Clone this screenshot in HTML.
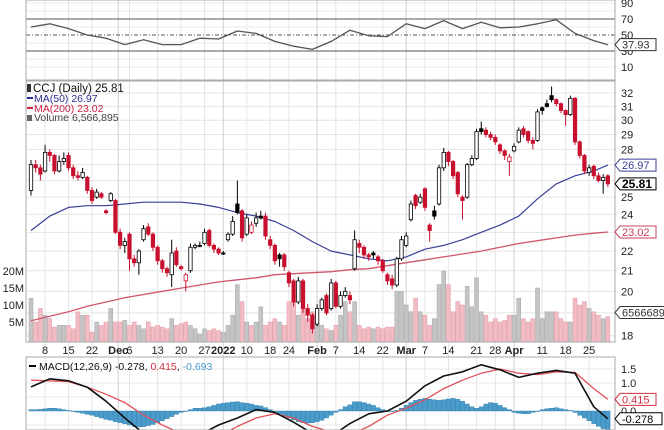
<!DOCTYPE html>
<html><head><meta charset="utf-8"><style>
html,body{margin:0;padding:0;background:#fff;}
svg{display:block;font-family:"Liberation Sans",sans-serif;}
</style></head><body>
<svg id="chart" width="664" height="430" viewBox="0 0 664 430" xmlns="http://www.w3.org/2000/svg">
<defs>
<clipPath id="cR"><rect x="26" y="0" width="589" height="80"/></clipPath>
<clipPath id="cP"><rect x="26" y="81" width="589" height="261"/></clipPath>
<clipPath id="cM"><rect x="26" y="357" width="589" height="73"/></clipPath>
</defs>
<g id="grid"></g>
<g id="vol" clip-path="url(#cP)"></g>
<g id="ma" clip-path="url(#cP)"></g>
<g id="candles" clip-path="url(#cP)"></g>
<g id="rsi" clip-path="url(#cR)"></g>
<g id="macd" clip-path="url(#cM)"></g>
<g id="frame"></g>
<g id="labels"></g>
</svg>
<script>
const opens=[25.4,27.0,26.8,26.6,27.8,27.6,26.6,27.2,27.6,26.8,26.3,26.2,26.2,25.4,25.0,25.2,24.2,24.8,24.8,23.0,22.3,22.9,21.6,21.4,22.6,23.3,22.9,22.2,21.5,21.1,20.8,22.0,21.2,20.5,21.0,22.2,22.3,22.4,23.1,22.3,22.1,21.9,22.6,22.9,24.6,24.2,22.9,23.0,23.5,23.9,23.9,22.6,22.3,21.8,21.8,20.9,20.5,19.5,20.5,19.2,18.9,18.5,19.2,19.8,19.2,20.4,19.3,19.8,19.8,21.1,22.4,22.2,21.8,21.9,21.7,21.5,20.8,20.6,20.3,21.6,22.3,23.7,25.1,24.7,25.5,23.4,24.2,24.6,26.8,27.8,27.2,26.5,25.0,25.0,27.0,27.4,29.4,29.3,29.0,28.8,28.3,27.9,27.2,27.9,28.5,29.4,29.2,28.6,28.6,30.9,31.2,31.8,31.5,31.2,30.7,30.4,31.6,28.5,27.6,26.5,26.9,26.3,26.0,26.3];
const highs=[27.3,27.3,27.0,28.3,28.0,27.7,27.6,27.8,27.8,27.0,26.6,26.8,26.3,25.6,25.5,25.3,24.3,25.3,24.9,23.2,22.7,23.0,21.8,22.1,23.4,23.5,23.0,22.3,21.6,21.2,22.6,22.2,21.3,20.9,22.4,22.4,22.5,23.2,23.2,22.4,22.2,22.0,23.0,23.9,26.0,24.3,24.0,23.6,24.1,24.2,24.1,22.8,22.4,21.9,21.9,21.0,20.6,20.7,20.6,19.4,19.0,19.4,19.7,19.9,20.6,20.5,20.0,20.2,20.0,23.1,22.6,22.3,21.9,22.0,21.8,21.6,20.9,20.8,21.7,22.8,23.0,24.8,25.2,25.2,25.6,23.5,24.5,27.0,28.1,27.9,27.3,26.6,25.1,27.1,27.6,29.4,29.9,29.5,29.2,29.0,28.4,28.0,27.7,28.4,29.5,29.6,29.3,28.8,30.8,31.0,31.5,32.5,31.6,31.3,30.8,31.8,31.7,28.6,27.7,27.0,27.0,26.5,26.4,26.4];
const lows=[25.1,26.5,26.0,26.5,27.2,26.4,26.5,27.0,26.6,26.1,26.0,26.1,25.2,24.6,24.9,24.9,24.0,24.7,22.9,22.1,21.9,21.0,21.2,20.8,22.5,22.8,22.0,21.3,20.9,20.7,20.2,21.2,21.0,20.0,20.9,22.1,22.2,22.3,22.2,21.9,21.8,21.8,22.5,22.8,24.0,22.5,22.8,22.9,23.3,23.7,22.6,22.1,21.3,21.2,21.0,20.2,19.3,19.4,19.0,18.6,18.1,18.4,19.1,18.9,19.1,19.2,19.2,19.7,19.4,21.0,21.9,21.6,21.5,21.6,21.3,20.9,20.3,20.1,20.2,21.5,22.2,23.6,24.3,24.6,24.2,22.5,23.7,24.5,26.6,26.9,26.1,25.0,23.7,24.9,26.9,27.3,29.0,28.8,28.6,28.3,27.7,27.3,26.3,27.8,28.4,28.8,28.4,28.0,28.5,30.4,30.9,31.3,31.0,30.5,29.6,30.3,28.3,27.4,26.4,26.3,26.1,25.9,25.2,25.6];
const closes=[27.0,26.8,26.4,27.8,27.6,26.6,27.2,27.4,26.8,26.3,26.2,26.5,25.4,24.8,25.3,25.0,24.1,25.2,23.0,22.3,22.5,21.6,21.4,22.0,23.2,22.9,22.2,21.5,21.1,20.9,21.9,21.3,21.1,20.8,22.2,22.3,22.3,23.0,22.3,22.1,21.9,21.9,22.9,23.6,24.1,22.7,23.8,23.4,23.8,23.8,22.8,22.3,21.5,21.6,21.2,20.4,19.5,20.5,19.2,18.9,18.3,19.2,19.6,19.0,20.4,19.3,19.8,20.0,19.6,22.6,22.2,21.8,21.7,21.8,21.5,21.0,20.5,20.3,21.6,22.6,22.8,24.6,24.5,25.0,24.4,23.1,23.9,26.8,27.8,27.2,26.3,25.2,24.8,27.0,27.4,29.2,29.2,29.0,28.8,28.5,27.9,27.6,27.5,28.2,29.3,29.0,28.6,28.4,30.6,30.7,31.0,31.5,31.2,30.7,30.4,31.6,28.5,27.6,26.6,26.8,26.3,26.0,26.2,25.8];
const volumes=[12,5,9,7,6,3.5,4,4,4,3,8,7,7,2,5,4,5,9,5,5,5.5,4,5,4,3,5,3.5,4,3.5,3,6,4,4.5,5,4,3,1.5,3,2.5,3,2.5,2,4,7,16,11,5,4,5,9.5,4,5,6,5,4,11,11,7,10,6,8,5,4,3,2.5,4,7,11,8,11,4,3,3.5,3,3.5,3,3.5,3.5,14,14,10,8,12,8,7,4,6,16,20,16,8,11,10,15.5,9.5,18,8,7,5,6,5,5.5,7,7,12,6,5,6,15,6,8,8,8,6,5,5,12,10,11,9,8,7,6,6.6];
const histValues=[0.05,0.05,0.06,0.08,0.1,0.1,0.08,0.05,0.02,-0.02,-0.05,-0.08,-0.12,-0.15,-0.2,-0.25,-0.3,-0.33,-0.38,-0.42,-0.46,-0.5,-0.55,-0.57,-0.56,-0.52,-0.48,-0.42,-0.35,-0.28,-0.2,-0.12,-0.05,0.0,0.05,0.1,0.1,0.12,0.15,0.2,0.25,0.28,0.3,0.32,0.33,0.3,0.28,0.25,0.2,0.18,0.12,0.05,-0.02,-0.1,-0.18,-0.25,-0.32,-0.38,-0.42,-0.43,-0.42,-0.38,-0.33,-0.25,-0.15,-0.05,0.05,0.15,0.22,0.33,0.33,0.3,0.25,0.2,0.12,0.05,0.0,-0.02,0.02,0.1,0.2,0.3,0.38,0.42,0.45,0.42,0.4,0.38,0.4,0.43,0.45,0.42,0.35,0.25,0.15,0.1,0.15,0.25,0.3,0.28,0.2,0.12,0.05,-0.05,-0.08,-0.1,-0.1,-0.05,0.0,0.05,0.08,0.1,0.12,0.08,0.05,0.02,-0.05,-0.15,-0.25,-0.35,-0.45,-0.55,-0.63,-0.69];
// sampled series: bar index of each sample
const sampleIdx=[0,4,8,12,16,20,24,28,32,36,40,44,48,52,56,60,64,68,72,76,80,84,88,92,96,100,104,108,112,116,120,123];
const ma50=[23.1,23.9,24.4,24.5,24.5,24.6,24.7,24.7,24.7,24.6,24.4,24.1,23.9,23.6,23.1,22.5,22.0,21.8,21.6,21.5,21.7,22.1,22.3,22.6,23.0,23.4,23.9,24.9,25.8,26.3,26.6,26.97];
const ma200=[18.65,18.85,19.05,19.3,19.5,19.7,19.85,20.0,20.15,20.3,20.45,20.55,20.65,20.8,20.85,20.9,20.95,21.05,21.1,21.25,21.4,21.55,21.7,21.85,22.0,22.2,22.4,22.55,22.7,22.85,22.95,23.02];
const rsiValues=[60,64,58,50,46,38,44,38,38,46,45,55,52,42,36,32,42,56,49,48,64,58,68,58,66,59,60,64,69,52,43,37.93];
const macdLine=[0.86,1.15,1.08,0.85,0.35,-0.25,-0.8,-1.0,-0.95,-0.85,-0.5,-0.25,0.05,-0.05,-0.4,-0.8,-0.9,-0.45,-0.1,0.0,0.35,0.9,1.25,1.4,1.65,1.47,1.2,1.35,1.45,1.35,0.15,-0.278];
const signalLine=[1.1,1.08,1.05,0.85,0.6,0.3,-0.15,-0.5,-0.8,-0.95,-0.9,-0.55,-0.25,-0.1,-0.25,-0.55,-0.75,-0.85,-0.55,-0.15,0.1,0.4,0.8,1.1,1.35,1.5,1.35,1.3,1.4,1.38,0.8,0.415];
const tickLabels=["8","15","22","Dec","6","13","20","27","2022","10","18","24","Feb","7","14","22","Mar","7","14","21","28","Apr","11","18","25"];
const tickIdx=[3,8,13,18.6,21,27,32,37,41,46,51,55,61,65,70,75,80,84,89,95,99,103,109,114,119];
const priceTicks=[32,31,30,29,28,25,24,22,21,20,18];
const priceGrid=[18,19,20,21,22,23,24,25,26,27,28,29,30,31,32];
const volTicks=[5,10,15,20];
const rsiTicks=[90,70,50,30,10];
const macdTicks=[1.5,1.0,0.0];

const NS="http://www.w3.org/2000/svg";
const L=26,R=615;
function xOf(i){return 31+i*4.69;}
function yP(p){return 93+(Math.log(32)-Math.log(p))*421.9;}
function yV(v){return 339-v*3.4;}
function yR(v){return 35-(v-50)*0.8;}
function yM(v){return 411-v*28;}
function mk(parent,tag,attrs,text){const e=document.createElementNS(NS,tag);for(const k in attrs)e.setAttribute(k,attrs[k]);if(text!==undefined)e.textContent=text;document.getElementById(parent).appendChild(e);return e;}

// grid
priceGrid.forEach(p=>{const e=mk('grid','line',{x1:L,x2:R,y1:yP(p),y2:yP(p),stroke:'#e4e4e4','stroke-width':1});

});
[90,80,60,40,20,10].forEach(v=>{const e=mk('grid','line',{x1:L,x2:R,y1:yR(v),y2:yR(v),stroke:'#e8e8e8'});

});
[1.5,1.0,0.5,-0.5].forEach(v=>{const e=mk('grid','line',{x1:L,x2:R,y1:yM(v),y2:yM(v),stroke:'#e8e8e8'});

});
tickIdx.forEach((ix,k)=>{const x=xOf(ix);const bold=isNaN(+tickLabels[k])||tickLabels[k]==="2022";
const e=mk('grid','line',{x1:x,x2:x,y1:0,y2:430,stroke:bold?'#d0d0d0':'#e6e6e6'});

});

// volume
volumes.forEach((v,i)=>{const up=i===0?true:closes[i]>=closes[i-1];
const e=mk('vol','rect',{x:xOf(i)-2,y:yV(v),width:4,height:342-yV(v),fill:up?'#c4c4c4':'#f2bcc4',stroke:up?'#a8a8a8':'#e19aa6','stroke-width':0.5});

});

// MAs
function poly(parent,vals,yf,color,w,name){const pts=vals.map((v,k)=>xOf(sampleIdx[k]).toFixed(1)+','+yf(v).toFixed(1)).join(' ');
const e=mk(parent,'polyline',{points:pts,fill:'none',stroke:color,'stroke-width':w,'stroke-linejoin':'round'});

return e;}
poly('ma',ma200,yP,'#d0566c',1.3,'ma200-line');
poly('ma',ma50,yP,'#3a3f95',1.2,'ma50-line');

// candles
closes.forEach((c,i)=>{const o=opens[i];const prev=i===0?o:closes[i-1];const col=c<prev?'#c8102e':'#000';const x=xOf(i);
const w=mk('candles','line',{x1:x,x2:x,y1:yP(highs[i]),y2:yP(lows[i]),stroke:col,'stroke-width':1});


const top=yP(Math.max(o,c)),bot=yP(Math.min(o,c));const hollow=c>o;
const b=mk('candles','rect',{x:x-1.7,y:top,width:3.4,height:Math.max(1,bot-top),fill:hollow?'#fff':col,stroke:col,'stroke-width':0.8});

});

// RSI
[[70,''],[30,''],[50,'4,2,1,2']].forEach(([v,d])=>{const e=mk('rsi','line',{x1:L,x2:R,y1:yR(v),y2:yR(v),stroke:'#555','stroke-width':1,'stroke-dasharray':d});

});
poly('rsi',rsiValues,yR,'#555',1.3,'rsi-line');

// MACD
histValues.forEach((v,i)=>{const y0=yM(0),y1=yM(v);
const e=mk('macd','rect',{x:xOf(i)-2.2,y:Math.min(y0,y1),width:4.4,height:Math.max(0.5,Math.abs(y1-y0)),fill:'#4a9ccc',stroke:'#2f7aa6','stroke-width':0.4});

});
poly('macd',signalLine,yM,'#e0525a',1.3,'macd-signal-line');
poly('macd',macdLine,yM,'#111',1.6,'macd-line');

// frames
[[0,80],[81,342],[357,430]].forEach(([a,b])=>{const e=mk('frame','rect',{x:L,y:a,width:R-L,height:b-a,fill:'none',stroke:'#aaa','stroke-width':1});

});

// labels
function txt(x,y,s,opts){const e=mk('labels','text',Object.assign({x:x,y:y,'font-size':11,fill:'#222'},opts||{}),s);return e;}
rsiTicks.forEach(v=>{const e=txt(621,yR(v)+4,String(v));

});
priceTicks.forEach(p=>{const e=txt(621,yP(p)+4,String(p));

});
volTicks.forEach(v=>{const e=txt(24,yV(v)+4,v+'M',{'text-anchor':'end'});

});
macdTicks.forEach(v=>{const e=txt(621,yM(v)+4,v.toFixed(1));

});
tickIdx.forEach((ix,k)=>{const s=tickLabels[k];const bold=isNaN(+s)||s==="2022";
const e=txt(xOf(ix),354,s,{'text-anchor':'middle','font-weight':bold?'bold':'normal','font-size':11});

});

function tag(y,s,color,bold,name){const w=s.length*6+6;
const p=mk('labels','path',{d:`M615,${y} L620,${y-6} L${620+w},${y-6} L${620+w},${y+6} L620,${y+6} Z`,fill:'#fff',stroke:color,'stroke-width':1});


const t=txt(622,y+4,s,{fill:color==='#000'?'#000':color,'font-weight':bold?'bold':'normal','font-size':bold?12:11});

}
tag(yR(rsiValues[rsiValues.length-1]),'37.93','#333',false,'rsi-value-tag');
tag(yP(ma50[ma50.length-1]),'26.97','#3a3f95',false,'ma50-value-tag');
tag(yP(closes[closes.length-1]),'25.81','#000',true,'price-value-tag');
tag(yP(ma200[ma200.length-1]),'23.02','#c8405a',false,'ma200-value-tag');
tag(yV(volumes[volumes.length-1])-4,'6566689','#333',false,'volume-value-tag');
tag(yM(signalLine[signalLine.length-1]),'0.415','#d03040',false,'signal-value-tag');
tag(yM(macdLine[macdLine.length-1]),'-0.278','#000',false,'macd-value-tag');
tag(yM(histValues[histValues.length-1])+8,'-0.693','#2f7aa6',false,'histogram-value-tag');

// legends
let e;
e=txt(33,92,'CCJ (Daily) 25.81',{'font-size':11.5,fill:'#111'});


e=mk('labels','rect',{x:27,y:84,width:4,height:8,fill:'#333'});


e=mk('labels','rect',{x:27,y:97,width:6,height:2,fill:'#2b2f8f'});


e=txt(34,102,'MA(50) 26.97',{'font-size':10.5,fill:'#2b2f8f'});


e=mk('labels','rect',{x:27,y:107,width:6,height:2,fill:'#cc2244'});


e=txt(34,112,'MA(200) 23.02',{'font-size':10.5,fill:'#cc2244'});


e=mk('labels','rect',{x:27,y:115,width:5,height:6,fill:'#666'});


e=txt(34,121,'Volume 6,566,895',{'font-size':10.5,fill:'#444'});


e=mk('labels','rect',{x:29,y:365,width:7,height:2,fill:'#000'});


const mt=mk('labels','text',{x:39,y:370,'font-size':10.5,fill:'#111'});


mt.innerHTML='MACD(12,26,9) -0.278, <tspan fill="#d03040">0.415</tspan>, <tspan fill="#4a9ccc">-0.693</tspan>';
</script>
</body></html>
